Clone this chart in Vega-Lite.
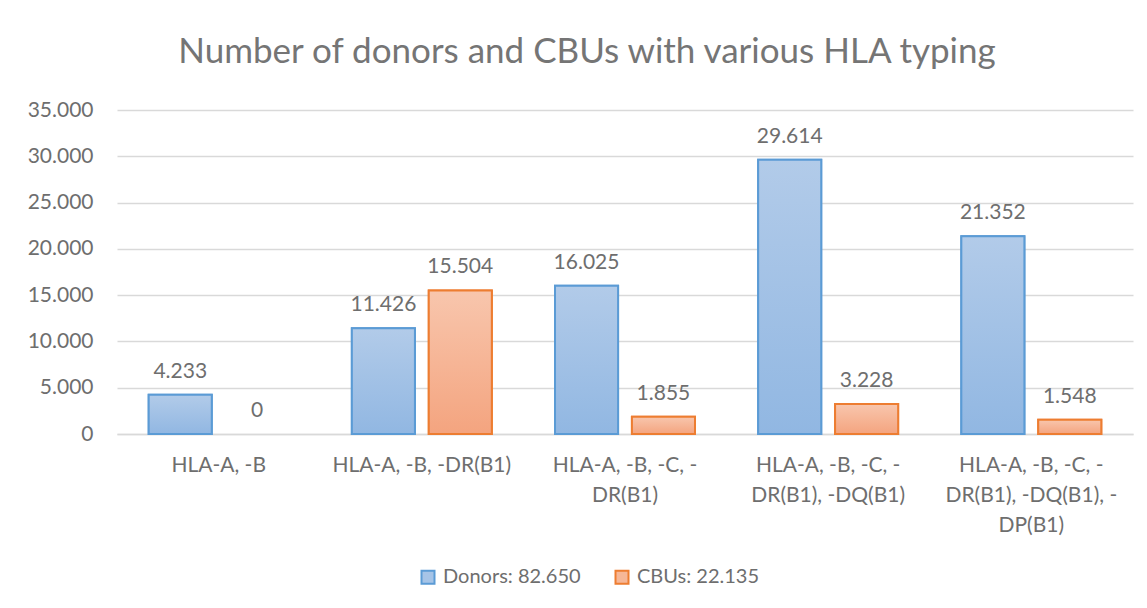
{
  "$schema": "https://vega.github.io/schema/vega-lite/v6.json",
  "width": 1016,
  "height": 324,
  "autosize": {"type": "none"},
  "padding": {"left": 117, "top": 110, "right": 14, "bottom": 174},
  "background": "white",
  "config": {
    "locale": {"number": {"decimal": ",", "thousands": ".", "grouping": [3], "currency": ["", " €"]}},
    "view": {"stroke": null},
    "font": "Lato",
    "legend": {
      "title": null,
      "orient": "none",
      "direction": "horizontal",
      "legendX": 301,
      "legendY": 457,
      "symbolType": "square",
      "symbolSize": 169,
      "symbolStrokeWidth": 2,
      "symbolOpacity": 1,
      "labelFontSize": 20,
      "labelColor": "#6e6e6e",
      "labelOffset": 5,
      "columnPadding": 30,
      "labelLimit": 0
    }
  },
  "title": {
    "text": "Number of donors and CBUs with various HLA typing",
    "fontSize": 35,
    "fontWeight": "normal",
    "font": "Lato",
    "color": "#757575",
    "anchor": "middle",
    "baseline": "alphabetic",
    "offset": 1,
    "dx": -38
  },
  "data": {
    "values": [
      {"category": "HLA-A, -B", "series": "Donors: 82.650", "value": 4233},
      {"category": "HLA-A, -B", "series": "CBUs: 22.135", "value": 0},
      {"category": "HLA-A, -B, -DR(B1)", "series": "Donors: 82.650", "value": 11426},
      {"category": "HLA-A, -B, -DR(B1)", "series": "CBUs: 22.135", "value": 15504},
      {"category": "HLA-A, -B, -C, -DR(B1)", "series": "Donors: 82.650", "value": 16025},
      {"category": "HLA-A, -B, -C, -DR(B1)", "series": "CBUs: 22.135", "value": 1855},
      {"category": "HLA-A, -B, -C, -DR(B1), -DQ(B1)", "series": "Donors: 82.650", "value": 29614},
      {"category": "HLA-A, -B, -C, -DR(B1), -DQ(B1)", "series": "CBUs: 22.135", "value": 3228},
      {"category": "HLA-A, -B, -C, -DR(B1), -DQ(B1), -DP(B1)", "series": "Donors: 82.650", "value": 21352},
      {"category": "HLA-A, -B, -C, -DR(B1), -DQ(B1), -DP(B1)", "series": "CBUs: 22.135", "value": 1548}
    ]
  },
  "encoding": {
    "x": {
      "field": "category",
      "type": "nominal",
      "sort": null,
      "scale": {"paddingInner": 0.311, "paddingOuter": 0.156},
      "axis": {
        "title": null,
        "labelAngle": 0,
        "labelFontSize": 21,
        "labelColor": "#6e6e6e",
        "labelLineHeight": 30,
        "labelPadding": 20,
        "labelLimit": 0,
        "ticks": false,
        "domain": true,
        "domainColor": "#d9d9d9",
        "domainWidth": 1.5,
        "labelExpr": "datum.label === 'HLA-A, -B, -C, -DR(B1)' ? ['HLA-A, -B, -C, -', 'DR(B1)'] : datum.label === 'HLA-A, -B, -C, -DR(B1), -DQ(B1)' ? ['HLA-A, -B, -C, -', 'DR(B1), -DQ(B1)'] : datum.label === 'HLA-A, -B, -C, -DR(B1), -DQ(B1), -DP(B1)' ? ['HLA-A, -B, -C, -', 'DR(B1), -DQ(B1), -', 'DP(B1)'] : datum.label"
      }
    },
    "xOffset": {
      "field": "series",
      "type": "nominal",
      "scale": {"domain": ["Donors: 82.650", "CBUs: 22.135"], "paddingInner": 0.18, "paddingOuter": 0}
    },
    "y": {
      "field": "value",
      "type": "quantitative",
      "scale": {"domain": [0, 35000], "nice": false},
      "axis": {
        "title": null,
        "values": [0, 5000, 10000, 15000, 20000, 25000, 30000, 35000],
        "format": ",d",
        "labelFontSize": 21,
        "labelColor": "#6e6e6e",
        "labelPadding": 24,
        "ticks": false,
        "domain": false,
        "gridColor": "#d9d9d9",
        "gridWidth": 1.5
      }
    }
  },
  "layer": [
    {
      "mark": {"type": "bar", "strokeWidth": 2, "opacity": 1},
      "encoding": {
        "fill": {
          "field": "series",
          "type": "nominal",
          "scale": {"domain": ["Donors: 82.650", "CBUs: 22.135"], "range": ["#a6c4e7", "#f6b797"]}
        },
        "stroke": {
          "field": "series",
          "type": "nominal",
          "scale": {"domain": ["Donors: 82.650", "CBUs: 22.135"], "range": ["#5b9bd5", "#ed7d31"]}
        },
        "strokeOpacity": {"condition": {"test": "datum.value === 0", "value": 0}, "value": 1}
      }
    },
    {
      "mark": {"type": "bar", "strokeWidth": 2},
      "encoding": {
        "stroke": {
          "field": "series",
          "type": "nominal",
          "scale": {"domain": ["Donors: 82.650", "CBUs: 22.135"], "range": ["#5b9bd5", "#ed7d31"]}
        },
        "strokeOpacity": {"condition": {"test": "datum.value === 0", "value": 0}, "value": 1},
        "fill": {
          "condition": {
            "test": "datum.series === 'Donors: 82.650'",
            "value": {"gradient": "linear", "x1": 0, "y1": 0, "x2": 0, "y2": 1, "stops": [{"offset": 0, "color": "#b2cbe9"}, {"offset": 1, "color": "#91b7e2"}]}
          },
          "value": {"gradient": "linear", "x1": 0, "y1": 0, "x2": 0, "y2": 1, "stops": [{"offset": 0, "color": "#f8c6ad"}, {"offset": 1, "color": "#f4a47f"}]}
        }
      }
    },
    {
      "mark": {"type": "text", "baseline": "alphabetic", "align": "center", "dy": -17, "fontSize": 21, "color": "#6e6e6e"},
      "encoding": {
        "text": {"field": "value", "type": "quantitative", "format": ",d"}
      }
    }
  ]
}
